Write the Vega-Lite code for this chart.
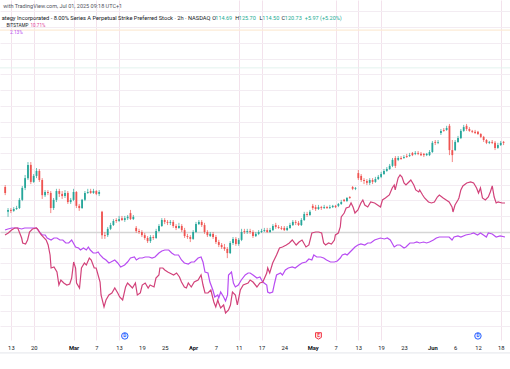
{
  "$schema": "https://vega.github.io/schema/vega-lite/v6.json",
  "width": 510,
  "height": 340,
  "autosize": "none",
  "padding": {"left": 0, "top": 0, "right": 0, "bottom": 29},
  "background": "#ffffff",
  "config": {
    "view": {"stroke": null},
    "text": {"font": "Roboto"}
  },
  "resolve": {"axis": {"x": "independent", "y": "independent"}},
  "datasets": {
    "candles": [
      {"t":-1,"o":14.3,"h":14.9,"l":11.7,"c":12.4},
      {"t":-0.5,"o":6.4,"h":7.6,"l":4.8,"c":7.0},
      {"t":0,"o":7.0,"h":7.6,"l":6.0,"c":6.7},
      {"t":0.5,"o":6.7,"h":7.9,"l":6.4,"c":7.3},
      {"t":1,"o":7.3,"h":8.3,"l":7.0,"c":7.6},
      {"t":1.5,"o":7.6,"h":10.8,"l":7.3,"c":10.2},
      {"t":2,"o":10.2,"h":14.6,"l":9.8,"c":14.0},
      {"t":2.5,"o":14.0,"h":18.1,"l":13.3,"c":17.1},
      {"t":3,"o":17.1,"h":22.2,"l":16.5,"c":21.3},
      {"t":3.5,"o":21.3,"h":22.2,"l":15.2,"c":15.9},
      {"t":4,"o":15.9,"h":18.4,"l":15.6,"c":17.8},
      {"t":4.5,"o":17.8,"h":20.3,"l":17.1,"c":19.4},
      {"t":5,"o":19.4,"h":20.0,"l":15.9,"c":16.5},
      {"t":5.5,"o":16.5,"h":17.1,"l":10.5,"c":11.7},
      {"t":6,"o":11.7,"h":13.3,"l":11.1,"c":12.7},
      {"t":6.5,"o":12.7,"h":13.3,"l":11.7,"c":12.4},
      {"t":7,"o":12.4,"h":13.0,"l":6.0,"c":7.6},
      {"t":7.5,"o":7.6,"h":10.8,"l":7.0,"c":10.2},
      {"t":8,"o":10.2,"h":13.7,"l":9.5,"c":13.0},
      {"t":8.5,"o":13.0,"h":13.7,"l":11.1,"c":12.1},
      {"t":9,"o":12.1,"h":13.0,"l":10.5,"c":11.4},
      {"t":9.5,"o":11.4,"h":13.3,"l":10.8,"c":12.4},
      {"t":10,"o":12.4,"h":13.0,"l":8.9,"c":9.5},
      {"t":10.5,"o":9.5,"h":10.8,"l":8.9,"c":10.2},
      {"t":11,"o":10.2,"h":13.7,"l":9.8,"c":12.7},
      {"t":11.5,"o":12.7,"h":13.0,"l":7.6,"c":8.3},
      {"t":12,"o":8.3,"h":8.9,"l":6.7,"c":7.6},
      {"t":12.5,"o":7.6,"h":10.5,"l":7.3,"c":10.2},
      {"t":13,"o":10.2,"h":13.0,"l":9.8,"c":12.4},
      {"t":13.5,"o":12.4,"h":13.7,"l":12.1,"c":12.7},
      {"t":14,"o":13.0,"h":13.7,"l":12.1,"c":12.4},
      {"t":14.5,"o":12.4,"h":13.7,"l":12.1,"c":13.0},
      {"t":15,"o":13.0,"h":13.3,"l":11.7,"c":12.1},
      {"t":15.5,"o":12.1,"h":13.3,"l":11.4,"c":12.7},
      {"t":16,"o":6.4,"h":6.7,"l":-2.2,"c":-1.0},
      {"t":16.5,"o":-1.0,"h":0,"l":-2.2,"c":-1.3},
      {"t":17,"o":-1.0,"h":1.6,"l":-1.6,"c":1.0},
      {"t":17.5,"o":1.0,"h":2.9,"l":0.6,"c":2.2},
      {"t":18,"o":2.2,"h":4.1,"l":1.9,"c":3.5},
      {"t":18.5,"o":3.8,"h":4.4,"l":2.9,"c":3.5},
      {"t":19,"o":3.5,"h":5.1,"l":3.2,"c":4.1},
      {"t":19.5,"o":4.4,"h":5.1,"l":3.5,"c":3.8},
      {"t":20,"o":3.8,"h":5.1,"l":3.2,"c":4.4},
      {"t":20.5,"o":4.4,"h":5.4,"l":3.8,"c":4.8},
      {"t":21,"o":6.0,"h":7.0,"l":3.8,"c":4.1},
      {"t":21.5,"o":4.1,"h":5.4,"l":3.8,"c":4.8},
      {"t":22,"o":1.3,"h":1.9,"l":-0.3,"c":0.3},
      {"t":22.5,"o":0.3,"h":1.0,"l":-0.6,"c":0},
      {"t":23,"o":0,"h":0.6,"l":-1.6,"c":-1.0},
      {"t":23.5,"o":-1.0,"h":-0.3,"l":-2.5,"c":-1.9},
      {"t":24,"o":-1.9,"h":-1.3,"l":-3.5,"c":-2.9},
      {"t":24.5,"o":-2.9,"h":-1.0,"l":-3.5,"c":-1.6},
      {"t":25,"o":-1.6,"h":-1.0,"l":-2.5,"c":-1.9},
      {"t":25.5,"o":-1.9,"h":1.0,"l":-2.2,"c":0.3},
      {"t":26,"o":0.3,"h":2.5,"l":0,"c":1.9},
      {"t":26.5,"o":1.9,"h":4.4,"l":1.6,"c":3.8},
      {"t":27,"o":3.8,"h":4.4,"l":2.5,"c":3.2},
      {"t":27.5,"o":3.2,"h":3.8,"l":2.2,"c":2.9},
      {"t":28,"o":2.9,"h":3.8,"l":2.2,"c":3.2},
      {"t":28.5,"o":3.2,"h":3.8,"l":1.3,"c":1.9},
      {"t":29,"o":1.9,"h":2.5,"l":0.6,"c":1.3},
      {"t":29.5,"o":1.3,"h":2.9,"l":1.0,"c":1.9},
      {"t":30,"o":1.9,"h":2.5,"l":0,"c":0.6},
      {"t":30.5,"o":0.6,"h":1.3,"l":-1.9,"c":-1.3},
      {"t":31,"o":-1.3,"h":-0.6,"l":-2.2,"c":-1.6},
      {"t":31.5,"o":-1.6,"h":-1.0,"l":-3.2,"c":-2.2},
      {"t":32,"o":-2.2,"h":0.6,"l":-2.5,"c":0},
      {"t":32.5,"o":0,"h":3.2,"l":-0.3,"c":2.5},
      {"t":33,"o":2.5,"h":3.8,"l":2.2,"c":3.2},
      {"t":33.5,"o":3.2,"h":3.8,"l":1.6,"c":2.2},
      {"t":34,"o":2.2,"h":2.9,"l":-0.6,"c":0},
      {"t":34.5,"o":0,"h":0.6,"l":-1.6,"c":-1.0},
      {"t":35,"o":-1.3,"h":0,"l":-1.6,"c":-0.6},
      {"t":35.5,"o":-0.6,"h":0,"l":-2.2,"c":-1.6},
      {"t":36,"o":-1.6,"h":-1.0,"l":-3.8,"c":-3.2},
      {"t":36.5,"o":-3.2,"h":-2.5,"l":-4.8,"c":-4.1},
      {"t":37,"o":-4.1,"h":-3.5,"l":-5.4,"c":-4.8},
      {"t":37.5,"o":-4.8,"h":-3.8,"l":-6.0,"c":-5.4},
      {"t":38,"o":-5.4,"h":-4.8,"l":-8.3,"c":-6.7},
      {"t":38.5,"o":-6.7,"h":-2.9,"l":-7.0,"c":-3.5},
      {"t":39,"o":-3.5,"h":-1.6,"l":-4.1,"c":-2.2},
      {"t":39.5,"o":-2.2,"h":-1.6,"l":-4.4,"c":-3.8},
      {"t":40,"o":-3.8,"h":-1.9,"l":-4.4,"c":-2.5},
      {"t":40.5,"o":-2.5,"h":1.0,"l":-2.9,"c":0},
      {"t":41,"o":0.3,"h":1.0,"l":-0.6,"c":0},
      {"t":41.5,"o":0,"h":1.0,"l":-0.6,"c":0.3},
      {"t":42,"o":0.3,"h":1.0,"l":-0.6,"c":0},
      {"t":42.5,"o":0,"h":0.6,"l":-1.9,"c":-1.3},
      {"t":43,"o":-1.3,"h":0,"l":-1.6,"c":-0.6},
      {"t":43.5,"o":-0.6,"h":0.6,"l":-1.0,"c":0},
      {"t":44,"o":0,"h":1.0,"l":-0.3,"c":0.3},
      {"t":44.5,"o":0.3,"h":1.3,"l":0,"c":0.6},
      {"t":45,"o":0.6,"h":1.3,"l":-0.3,"c":0},
      {"t":45.5,"o":0,"h":1.3,"l":-0.3,"c":0.6},
      {"t":46,"o":0.6,"h":2.5,"l":0.3,"c":1.9},
      {"t":46.5,"o":2.2,"h":2.9,"l":1.0,"c":1.6},
      {"t":47,"o":1.6,"h":2.2,"l":1.0,"c":1.3},
      {"t":47.5,"o":1.3,"h":1.9,"l":0.6,"c":1.0},
      {"t":48,"o":1.3,"h":1.9,"l":0.3,"c":0.6},
      {"t":48.5,"o":0.6,"h":1.9,"l":0.3,"c":1.3},
      {"t":49,"o":1.3,"h":2.9,"l":1.0,"c":2.2},
      {"t":49.5,"o":2.2,"h":3.8,"l":1.9,"c":3.2},
      {"t":50,"o":3.2,"h":3.8,"l":2.2,"c":2.9},
      {"t":50.5,"o":2.9,"h":3.5,"l":1.9,"c":2.2},
      {"t":51,"o":2.2,"h":4.4,"l":1.9,"c":3.8},
      {"t":51.5,"o":3.8,"h":6.4,"l":3.5,"c":5.7},
      {"t":52,"o":5.7,"h":6.4,"l":4.8,"c":5.4},
      {"t":52.5,"o":5.4,"h":7.0,"l":5.1,"c":6.4},
      {"t":53,"o":8.3,"h":8.9,"l":7.0,"c":7.6},
      {"t":53.5,"o":7.9,"h":8.6,"l":6.7,"c":7.3},
      {"t":54,"o":7.3,"h":8.6,"l":7.0,"c":7.9},
      {"t":54.5,"o":7.9,"h":8.3,"l":7.0,"c":7.6},
      {"t":55,"o":7.6,"h":8.6,"l":7.3,"c":7.9},
      {"t":55.5,"o":7.9,"h":8.3,"l":7.3,"c":7.6},
      {"t":56,"o":7.6,"h":8.6,"l":7.3,"c":7.9},
      {"t":56.5,"o":7.9,"h":8.6,"l":7.6,"c":8.3},
      {"t":57,"o":8.3,"h":8.6,"l":7.6,"c":7.9},
      {"t":57.5,"o":8.3,"h":9.2,"l":7.9,"c":8.9},
      {"t":58,"o":8.9,"h":10.2,"l":8.6,"c":9.5},
      {"t":58.5,"o":10.2,"h":10.5,"l":9.5,"c":9.8},
      {"t":59,"o":9.8,"h":11.1,"l":9.5,"c":10.8},
      {"t":59.5,"o":11.1,"h":11.4,"l":10.5,"c":10.8},
      {"t":60,"o":14.3,"h":14.6,"l":13.3,"c":13.7},
      {"t":60.5,"o":13.7,"h":14.3,"l":13.3,"c":14.0},
      {"t":61,"o":18.7,"h":19.7,"l":16.5,"c":17.1},
      {"t":61.5,"o":17.8,"h":18.4,"l":15.9,"c":16.5},
      {"t":62,"o":16.5,"h":17.1,"l":15.2,"c":16.2},
      {"t":62.5,"o":16.2,"h":16.8,"l":14.9,"c":15.6},
      {"t":63,"o":15.6,"h":17.1,"l":14.9,"c":16.5},
      {"t":63.5,"o":16.5,"h":17.1,"l":15.2,"c":15.9},
      {"t":64,"o":15.9,"h":17.5,"l":15.6,"c":16.8},
      {"t":64.5,"o":16.8,"h":18.1,"l":16.5,"c":17.5},
      {"t":65,"o":17.5,"h":19.1,"l":17.1,"c":18.4},
      {"t":65.5,"o":18.4,"h":20.0,"l":18.1,"c":19.4},
      {"t":66,"o":19.4,"h":20.6,"l":19.1,"c":20.0},
      {"t":66.5,"o":20.0,"h":21.6,"l":19.7,"c":21.0},
      {"t":67,"o":21.0,"h":23.5,"l":20.6,"c":22.9},
      {"t":67.5,"o":23.5,"h":24.1,"l":20.3,"c":21.0},
      {"t":68,"o":22.9,"h":24.1,"l":22.5,"c":23.5},
      {"t":68.5,"o":23.5,"h":24.1,"l":22.9,"c":23.2},
      {"t":69,"o":23.5,"h":24.4,"l":23.2,"c":23.8},
      {"t":69.5,"o":24.1,"h":24.8,"l":23.5,"c":23.8},
      {"t":70,"o":24.1,"h":25.1,"l":23.8,"c":24.4},
      {"t":70.5,"o":25.1,"h":25.4,"l":24.1,"c":24.4},
      {"t":71,"o":24.8,"h":25.7,"l":24.4,"c":25.1},
      {"t":71.5,"o":25.1,"h":25.7,"l":24.4,"c":24.8},
      {"t":72,"o":24.8,"h":25.4,"l":24.1,"c":24.4},
      {"t":72.5,"o":24.8,"h":25.1,"l":23.8,"c":24.4},
      {"t":73,"o":24.4,"h":25.1,"l":24.1,"c":24.8},
      {"t":73.5,"o":24.4,"h":26.0,"l":24.1,"c":25.4},
      {"t":74,"o":25.4,"h":28.9,"l":25.1,"c":28.3},
      {"t":74.5,"o":28.6,"h":29.2,"l":27.6,"c":28.3},
      {"t":75,"o":28.3,"h":29.2,"l":27.9,"c":28.6},
      {"t":75.5,"o":31.4,"h":32.7,"l":30.8,"c":32.1},
      {"t":76,"o":32.4,"h":33.0,"l":31.8,"c":32.1},
      {"t":76.5,"o":32.4,"h":33.7,"l":32.1,"c":33.0},
      {"t":77,"o":33.7,"h":34.3,"l":24.4,"c":26.0},
      {"t":77.5,"o":26.0,"h":29.2,"l":22.2,"c":24.4},
      {"t":78,"o":26.0,"h":29.2,"l":25.7,"c":28.6},
      {"t":78.5,"o":28.6,"h":30.5,"l":28.3,"c":29.8},
      {"t":79,"o":29.8,"h":32.7,"l":29.5,"c":32.1},
      {"t":79.5,"o":32.1,"h":34.0,"l":31.8,"c":33.3},
      {"t":80,"o":33.7,"h":34.3,"l":32.1,"c":32.7},
      {"t":80.5,"o":32.7,"h":33.3,"l":31.8,"c":32.1},
      {"t":81,"o":32.1,"h":32.4,"l":31.4,"c":31.8},
      {"t":81.5,"o":31.8,"h":32.4,"l":31.1,"c":31.4},
      {"t":82,"o":31.8,"h":32.1,"l":30.8,"c":31.1},
      {"t":82.5,"o":31.1,"h":31.4,"l":29.8,"c":30.2},
      {"t":83,"o":30.2,"h":30.5,"l":28.6,"c":29.2},
      {"t":83.5,"o":29.2,"h":29.5,"l":27.9,"c":28.3},
      {"t":84,"o":28.3,"h":28.9,"l":27.9,"c":28.6},
      {"t":84.5,"o":28.6,"h":29.2,"l":27.9,"c":28.3},
      {"t":85,"o":28.3,"h":28.9,"l":26.0,"c":26.7},
      {"t":85.5,"o":26.7,"h":28.3,"l":26.4,"c":27.6},
      {"t":86,"o":27.6,"h":28.9,"l":27.3,"c":28.3},
      {"t":86.5,"o":28.6,"h":28.9,"l":27.6,"c":28.3}
    ],
    "bitstamp": [
      {"t":-1.03,"v":-0.95},{"t":-0.46,"v":-0.32},{"t":0.12,"v":0.64},{"t":0.69,"v":1.27},{"t":1.2,"v":1.27},{"t":1.55,"v":-0.32},{"t":1.89,"v":-1.91},{"t":2.07,"v":-3.49},{"t":2.58,"v":-3.81},{"t":2.93,"v":-2.54},{"t":3.27,"v":0},{"t":3.79,"v":0.95},{"t":4.48,"v":1.27},{"t":4.65,"v":0.95},{"t":5.34,"v":-0.95},{"t":6.2,"v":-2.54},{"t":6.54,"v":-4.13},{"t":6.88,"v":-7.3},{"t":7.06,"v":-11.43},{"t":7.57,"v":-11.11},{"t":8.09,"v":-12.7},{"t":8.43,"v":-16.83},{"t":8.78,"v":-15.24},{"t":9.29,"v":-16.19},{"t":9.81,"v":-16.83},{"t":10.33,"v":-16.51},{"t":10.67,"v":-14.61},{"t":11.02,"v":-9.53},{"t":11.36,"v":-11.43},{"t":11.53,"v":-16.19},{"t":12.05,"v":-17.78},{"t":12.39,"v":-11.43},{"t":12.91,"v":-9.84},{"t":13.25,"v":-10.48},{"t":13.77,"v":-8.26},{"t":14.11,"v":-8.89},{"t":14.63,"v":-11.43},{"t":14.97,"v":-11.43},{"t":15.66,"v":-15.88},{"t":15.83,"v":-20.0},{"t":16.35,"v":-23.81},{"t":16.7,"v":-21.59},{"t":17.21,"v":-20.0},{"t":17.73,"v":-19.37},{"t":18.24,"v":-17.78},{"t":18.76,"v":-19.37},{"t":19.1,"v":-20.64},{"t":19.62,"v":-21.59},{"t":20.14,"v":-17.46},{"t":20.48,"v":-16.19},{"t":20.83,"v":-16.83},{"t":21.34,"v":-17.78},{"t":21.86,"v":-16.19},{"t":22.2,"v":-20.0},{"t":22.72,"v":-19.37},{"t":23.06,"v":-16.83},{"t":23.58,"v":-16.19},{"t":24.1,"v":-17.78},{"t":24.44,"v":-16.83},{"t":25.13,"v":-17.46},{"t":25.47,"v":-14.61},{"t":25.99,"v":-13.65},{"t":26.16,"v":-11.43},{"t":26.68,"v":-11.43},{"t":27.02,"v":-12.07},{"t":27.54,"v":-12.7},{"t":27.88,"v":-13.02},{"t":28.57,"v":-13.65},{"t":29.09,"v":-13.02},{"t":29.6,"v":-14.29},{"t":29.95,"v":-15.88},{"t":30.46,"v":-17.46},{"t":30.81,"v":-17.78},{"t":31.15,"v":-16.19},{"t":31.67,"v":-17.46},{"t":32.19,"v":-15.88},{"t":32.87,"v":-15.24},{"t":33.39,"v":-13.65},{"t":33.73,"v":-16.83},{"t":34.08,"v":-19.37},{"t":34.6,"v":-19.37},{"t":35.11,"v":-18.42},{"t":35.63,"v":-22.23},{"t":35.97,"v":-23.81},{"t":36.32,"v":-21.59},{"t":36.49,"v":-22.54},{"t":36.83,"v":-24.13},{"t":37.35,"v":-23.18},{"t":37.69,"v":-25.72},{"t":38.21,"v":-24.77},{"t":38.55,"v":-23.18},{"t":38.9,"v":-19.05},{"t":39.41,"v":-20.0},{"t":39.76,"v":-23.18},{"t":40.28,"v":-18.42},{"t":40.79,"v":-16.83},{"t":41.65,"v":-16.19},
      {"t":42.0,"v":-15.24},{"t":42.51,"v":-15.88},{"t":43.2,"v":-17.46},{"t":43.72,"v":-16.19},{"t":44.23,"v":-15.88},{"t":44.92,"v":-13.02},{"t":45.09,"v":-11.43},{"t":45.44,"v":-13.02},{"t":45.96,"v":-9.84},{"t":46.64,"v":-7.3},{"t":47.16,"v":-5.08},{"t":47.68,"v":-4.76},{"t":48.36,"v":-4.13},{"t":48.88,"v":-3.49},{"t":49.4,"v":-2.54},{"t":50.09,"v":-4.13},{"t":50.6,"v":-3.18},{"t":51.12,"v":-2.54},{"t":51.81,"v":-4.76},{"t":52.32,"v":-4.13},{"t":52.84,"v":-0.32},{"t":53.53,"v":0},{"t":54.04,"v":0},{"t":54.56,"v":-0.32},{"t":54.91,"v":-3.49},{"t":55.25,"v":-4.13},{"t":55.77,"v":-3.49},{"t":56.28,"v":-3.81},{"t":56.8,"v":-2.54},{"t":56.97,"v":-0.95},{"t":57.49,"v":-0.32},{"t":57.83,"v":1.59},{"t":58.0,"v":4.76},{"t":58.52,"v":6.03},{"t":58.86,"v":7.62},{"t":59.38,"v":7.94},{"t":59.72,"v":9.21},{"t":60.07,"v":7.94},{"t":60.41,"v":6.03},{"t":60.93,"v":6.99},{"t":61.45,"v":9.21},{"t":61.79,"v":10.16},{"t":62.13,"v":8.57},{"t":62.65,"v":7.94},{"t":63.17,"v":9.53},{"t":63.86,"v":9.21},{"t":64.37,"v":8.57},{"t":64.89,"v":7.94},{"t":65.23,"v":10.16},{"t":65.75,"v":10.8},{"t":66.44,"v":11.75},{"t":66.95,"v":13.97},{"t":67.3,"v":14.92},{"t":67.47,"v":13.34},{"t":67.99,"v":17.15},{"t":68.33,"v":18.1},{"t":68.67,"v":17.46},{"t":69.02,"v":15.56},{"t":69.36,"v":14.92},{"t":69.88,"v":15.88},{"t":70.22,"v":16.51},{"t":70.74,"v":14.92},{"t":71.08,"v":13.34},{"t":71.6,"v":12.7},{"t":71.77,"v":13.34},{"t":72.29,"v":11.75},{"t":72.63,"v":10.8},{"t":73.32,"v":9.53},{"t":73.84,"v":9.21},{"t":74.35,"v":9.53},{"t":74.87,"v":11.11},{"t":75.22,"v":11.75},{"t":75.9,"v":10.8},{"t":76.42,"v":10.16},{"t":76.94,"v":9.53},{"t":77.45,"v":7.94},{"t":77.62,"v":6.35},{"t":77.97,"v":8.57},{"t":78.49,"v":10.16},{"t":78.66,"v":10.8},{"t":79.0,"v":13.34},{"t":79.35,"v":14.61},{"t":80.03,"v":15.56},{"t":80.72,"v":15.88},{"t":81.24,"v":15.56},{"t":81.76,"v":13.97},{"t":82.1,"v":12.38},{"t":82.44,"v":13.97},{"t":82.79,"v":10.8},{"t":83.3,"v":10.16},{"t":83.82,"v":11.11},{"t":84.17,"v":12.7},{"t":84.51,"v":14.61},{"t":84.85,"v":11.11},{"t":85.2,"v":9.21},{"t":85.54,"v":9.53},{"t":86.23,"v":9.21},{"t":86.75,"v":9.21}
    ],
    "mstr": [
      {"t":-1.03,"v":0.64},{"t":-0.52,"v":0.95},{"t":0.17,"v":1.27},{"t":0.69,"v":1.27},{"t":1.2,"v":1.27},{"t":1.89,"v":0.95},{"t":2.41,"v":1.27},{"t":2.93,"v":1.27},{"t":3.61,"v":1.27},{"t":4.13,"v":1.27},{"t":4.48,"v":1.27},{"t":4.65,"v":0.95},{"t":5.16,"v":-0.32},{"t":5.51,"v":-0.95},{"t":6.02,"v":-0.95},{"t":6.37,"v":-1.91},{"t":7.06,"v":-2.54},{"t":7.57,"v":-1.91},{"t":8.09,"v":-1.91},{"t":8.61,"v":-2.54},{"t":9.12,"v":-2.54},{"t":9.64,"v":-3.49},{"t":10.15,"v":-3.49},{"t":10.67,"v":-2.54},{"t":11.36,"v":-4.76},{"t":11.88,"v":-5.08},{"t":12.22,"v":-5.72},{"t":12.74,"v":-5.08},{"t":13.25,"v":-5.72},{"t":13.6,"v":-4.76},{"t":13.94,"v":-5.72},{"t":14.46,"v":-6.67},{"t":14.97,"v":-6.67},{"t":15.32,"v":-6.35},{"t":15.66,"v":-7.3},{"t":16.18,"v":-8.26},{"t":16.7,"v":-8.89},{"t":17.21,"v":-9.84},{"t":17.56,"v":-9.53},{"t":18.24,"v":-8.89},{"t":18.76,"v":-9.84},{"t":19.28,"v":-11.11},{"t":19.97,"v":-10.48},{"t":20.48,"v":-9.53},{"t":21.0,"v":-8.26},{"t":21.69,"v":-7.94},{"t":22.03,"v":-8.89},{"t":22.55,"v":-8.26},{"t":23.06,"v":-8.26},{"t":23.58,"v":-7.94},{"t":24.27,"v":-7.94},{"t":24.78,"v":-8.26},{"t":25.3,"v":-7.94},{"t":25.99,"v":-6.67},{"t":26.51,"v":-6.03},{"t":27.02,"v":-5.72},{"t":27.71,"v":-5.72},{"t":28.23,"v":-6.67},{"t":28.74,"v":-7.3},{"t":29.43,"v":-7.3},{"t":29.95,"v":-8.89},{"t":30.46,"v":-9.84},{"t":31.15,"v":-10.16},{"t":31.67,"v":-9.53},{"t":32.19,"v":-9.53},{"t":32.87,"v":-8.26},{"t":33.39,"v":-7.94},{"t":33.73,"v":-9.53},{"t":34.08,"v":-12.7},{"t":34.6,"v":-13.02},{"t":34.94,"v":-15.88},{"t":35.46,"v":-18.42},{"t":35.8,"v":-20.64},{"t":36.32,"v":-20.0},{"t":36.49,"v":-20.96},{"t":36.83,"v":-19.05},{"t":37.35,"v":-20.64},{"t":37.69,"v":-21.91},{"t":38.04,"v":-20.0},{"t":38.21,"v":-13.65},{"t":38.73,"v":-12.7},{"t":39.07,"v":-16.19},{"t":39.41,"v":-17.46},{"t":39.93,"v":-16.83},{"t":40.45,"v":-15.24},{"t":41.14,"v":-13.65},{"t":41.65,"v":-13.02},
      {"t":42.0,"v":-13.02},{"t":42.51,"v":-13.65},{"t":43.2,"v":-14.61},{"t":43.72,"v":-14.29},{"t":44.23,"v":-15.88},{"t":44.92,"v":-16.83},{"t":45.09,"v":-19.05},{"t":45.44,"v":-19.37},{"t":45.96,"v":-19.05},{"t":46.3,"v":-16.19},{"t":46.64,"v":-13.65},{"t":47.33,"v":-13.02},{"t":47.68,"v":-13.65},{"t":48.19,"v":-12.07},{"t":48.71,"v":-11.43},{"t":49.4,"v":-11.11},{"t":49.91,"v":-11.43},{"t":50.6,"v":-10.48},{"t":51.12,"v":-9.84},{"t":51.81,"v":-9.53},{"t":52.32,"v":-8.57},{"t":52.84,"v":-8.89},{"t":53.18,"v":-7.3},{"t":53.7,"v":-7.94},{"t":54.39,"v":-7.94},{"t":54.91,"v":-8.26},{"t":55.42,"v":-8.89},{"t":56.11,"v":-9.53},{"t":56.8,"v":-9.53},{"t":57.31,"v":-9.21},{"t":57.83,"v":-8.26},{"t":58.18,"v":-7.3},{"t":58.69,"v":-6.99},{"t":59.04,"v":-7.3},{"t":59.55,"v":-6.35},{"t":59.9,"v":-5.72},{"t":60.41,"v":-4.76},{"t":60.93,"v":-4.13},{"t":61.45,"v":-3.81},{"t":62.13,"v":-4.13},{"t":62.65,"v":-3.49},{"t":63.17,"v":-3.49},{"t":63.86,"v":-2.54},{"t":64.37,"v":-2.22},{"t":64.89,"v":-1.91},{"t":65.58,"v":-2.22},{"t":66.09,"v":-1.91},{"t":66.61,"v":-2.54},{"t":67.3,"v":-4.76},{"t":67.81,"v":-4.13},{"t":68.33,"v":-4.13},{"t":69.02,"v":-5.08},{"t":69.36,"v":-4.76},{"t":70.05,"v":-3.49},{"t":70.74,"v":-3.49},{"t":71.26,"v":-3.18},{"t":71.77,"v":-3.49},{"t":72.46,"v":-3.18},{"t":72.98,"v":-3.49},{"t":73.49,"v":-3.18},{"t":74.18,"v":-2.54},{"t":74.7,"v":-1.91},{"t":75.22,"v":-1.59},{"t":75.9,"v":-1.59},{"t":76.42,"v":-1.59},{"t":76.94,"v":-1.59},{"t":77.45,"v":-2.54},{"t":77.8,"v":-1.59},{"t":78.49,"v":-1.27},{"t":79.0,"v":-1.59},{"t":79.86,"v":-0.95},{"t":80.72,"v":-0.64},{"t":81.24,"v":-0.32},{"t":81.93,"v":-0.95},{"t":82.44,"v":-0.32},{"t":82.96,"v":-0.95},{"t":83.48,"v":-1.59},{"t":83.82,"v":-0.32},{"t":84.51,"v":-0.64},{"t":85.2,"v":-1.59},{"t":85.89,"v":-1.27},{"t":86.75,"v":-1.59}
    ],
    "events": [
      {"t":20,"kind":"D"},
      {"t":54,"kind":"E"},
      {"t":82,"kind":"D"}
    ]
  },
  "layer": [
    {
      "data": {"name": "mstr"},
      "mark": {"type": "line", "color": "#b84cf2", "strokeWidth": 1.2},
      "encoding": {
        "x": {"field": "t", "type": "quantitative", "title": null,
          "scale": {"domain": [-1.033, 86.75], "nice": false, "zero": false},
          "axis": {
            "values": [0,4,11,15,19,23,27,32,36,40,44,48,53,57,61,65,69,74,78,82,86],
            "labelExpr": "['13','20','Mar','7','13','19','25','Apr','7','11','17','24','May','7','13','19','23','Jun','6','12','18'][indexof([0,4,11,15,19,23,27,32,36,40,44,48,53,57,61,65,69,74,78,82,86], datum.value)]",
            "labelOverlap": false, "labelFlush": false, "labelSeparation": 0, "labelBound": false,
            "domain": false, "ticks": false, "labelPadding": 4, "labelFont": "Roboto", "labelFontSize": 5.8, "labelColor": "#131722",
            "labelFontWeight": {"condition": {"test": "datum.value == 11 || datum.value == 32 || datum.value == 53 || datum.value == 74", "value": "bold"}, "value": "normal"},
            "grid": true, "gridColor": "#f3e2ec", "gridWidth": 1,
            "gridOpacity": {"condition": {"test": "indexof([0,4,11,15,19,40,44,57,61,65,86], datum.value) >= 0", "value": 1}, "value": 0}
          }
        },
        "y": {"field": "v", "type": "quantitative", "title": null,
          "scale": {"domain": [-34.29, 73.65], "nice": false, "zero": false},
          "axis": {
            "values": [-30,-25,-20,-15,-10,-5,0,5,10,15,20,25,30,35,40,45,50,55,60,65,70],
            "labels": false, "ticks": false, "domain": false, "grid": true,
            "gridColor": {"condition": {"test": "datum.value === 0", "value": "#d6d6d6"}, "value": "#f3ecf2"},
            "gridWidth": {"condition": {"test": "datum.value === 0", "value": 1.4}, "value": 1}
          }
        }
      }
    },
    {
      "data": {"name": "bitstamp"},
      "mark": {"type": "line", "color": "#d2427a", "strokeWidth": 1.2},
      "encoding": {
        "x": {"field": "t", "type": "quantitative", "axis": null, "scale": {"domain": [-1.033, 86.75], "nice": false, "zero": false}},
        "y": {"field": "v", "type": "quantitative", "axis": null, "scale": {"domain": [-34.29, 73.65], "nice": false, "zero": false}}
      }
    },
    {
      "data": {"name": "candles"},
      "mark": {"type": "rule", "strokeWidth": 0.7},
      "encoding": {
        "x": {"field": "t", "type": "quantitative", "axis": null, "scale": {"domain": [-1.033, 86.75], "nice": false, "zero": false}},
        "y": {"field": "l", "type": "quantitative", "axis": null, "scale": {"domain": [-34.29, 73.65], "nice": false, "zero": false}},
        "y2": {"field": "h"},
        "color": {"condition": {"test": "datum.c >= datum.o", "value": "#26a69a"}, "value": "#ef5350"}
      }
    },
    {
      "data": {"name": "candles"},
      "mark": {"type": "bar", "width": 1.8},
      "encoding": {
        "x": {"field": "t", "type": "quantitative", "axis": null, "scale": {"domain": [-1.033, 86.75], "nice": false, "zero": false}},
        "y": {"field": "o", "type": "quantitative", "axis": null, "scale": {"domain": [-34.29, 73.65], "nice": false, "zero": false}},
        "y2": {"field": "c"},
        "color": {"condition": {"test": "datum.c >= datum.o", "value": "#26a69a"}, "value": "#ef5350"}
      }
    },
    {
      "data": {"name": "events"},
      "mark": {"type": "point", "filled": true, "size": 42, "strokeWidth": 1, "opacity": 1},
      "encoding": {
        "x": {"field": "t", "type": "quantitative", "axis": null, "scale": {"domain": [-1.033, 86.75], "nice": false, "zero": false}},
        "y": {"datum": -33, "axis": null, "scale": {"domain": [-34.29, 73.65], "nice": false, "zero": false}},
        "shape": {"condition": {"test": "datum.kind == 'E'", "value": "M -0.9 -1 L 0.9 -1 L 0.9 0.45 L 0 1 L -0.9 0.45 Z"}, "value": "circle"},
        "fill": {"condition": {"test": "datum.kind == 'E'", "value": "#fde8ea"}, "value": "#eef2ff"},
        "stroke": {"condition": {"test": "datum.kind == 'E'", "value": "#f23645"}, "value": "#2962ff"}
      }
    },
    {
      "data": {"name": "events"},
      "mark": {"type": "text", "fontSize": 4.6, "fontWeight": "bold", "baseline": "middle", "align": "center", "font": "Roboto"},
      "encoding": {
        "x": {"field": "t", "type": "quantitative", "axis": null, "scale": {"domain": [-1.033, 86.75], "nice": false, "zero": false}},
        "y": {"datum": -33, "axis": null, "scale": {"domain": [-34.29, 73.65], "nice": false, "zero": false}},
        "text": {"field": "kind"},
        "color": {"condition": {"test": "datum.kind == 'E'", "value": "#f23645"}, "value": "#2962ff"}
      }
    },
    {
      "data": {"values": [{}]},
      "layer": [
        {"mark": {"type": "rule", "color": "#e3e5ea", "strokeWidth": 1}, "encoding": {"y": {"datum": -38.4, "axis": null, "scale": {"domain": [-34.29, 73.65], "nice": false, "zero": false}}}},
        {"mark": {"type": "rule", "color": "#fcebd6", "strokeWidth": 1.4}, "encoding": {"y": {"datum": 64.1, "axis": null, "scale": {"domain": [-34.29, 73.65], "nice": false, "zero": false}}}},
        {"mark": {"type": "rule", "color": "#e3f2ee", "strokeWidth": 1}, "encoding": {"y": {"datum": 52.1, "axis": null, "scale": {"domain": [-34.29, 73.65], "nice": false, "zero": false}}}},
        {"mark": {"type": "text", "text": "with TradingView.com, Jul 01, 2025 09:18 UTC+1", "align": "right", "baseline": "middle", "fontSize": 5.5, "color": "#50535e"},
         "encoding": {"x": {"datum": 19.54, "axis": null, "scale": {"domain": [-1.033, 86.75], "nice": false, "zero": false}}, "y": {"datum": 71.8, "axis": null, "scale": {"domain": [-34.29, 73.65], "nice": false, "zero": false}}}},
        {"mark": {"type": "text", "text": "ategy Incorporated - 8.00% Series A Perpetual Strike Preferred Stock · 2h · NASDAQ", "align": "right", "baseline": "middle", "fontSize": 5.7, "color": "#131722"},
         "encoding": {"x": {"datum": 35.03, "axis": null, "scale": {"domain": [-1.033, 86.75], "nice": false, "zero": false}}, "y": {"datum": 67.9, "axis": null, "scale": {"domain": [-34.29, 73.65], "nice": false, "zero": false}}}},
        {"mark": {"type": "text", "text": "O", "align": "left", "baseline": "middle", "fontSize": 5.5, "color": "#131722"},
         "encoding": {"x": {"datum": 35.37, "axis": null, "scale": {"domain": [-1.033, 86.75], "nice": false, "zero": false}}, "y": {"datum": 67.9, "axis": null, "scale": {"domain": [-34.29, 73.65], "nice": false, "zero": false}}}},
        {"mark": {"type": "text", "text": "114.69", "align": "left", "baseline": "middle", "fontSize": 5.5, "color": "#22ab94"},
         "encoding": {"x": {"datum": 35.89, "axis": null, "scale": {"domain": [-1.033, 86.75], "nice": false, "zero": false}}, "y": {"datum": 67.9, "axis": null, "scale": {"domain": [-34.29, 73.65], "nice": false, "zero": false}}}},
        {"mark": {"type": "text", "text": "H", "align": "left", "baseline": "middle", "fontSize": 5.5, "color": "#131722"},
         "encoding": {"x": {"datum": 39.41, "axis": null, "scale": {"domain": [-1.033, 86.75], "nice": false, "zero": false}}, "y": {"datum": 67.9, "axis": null, "scale": {"domain": [-34.29, 73.65], "nice": false, "zero": false}}}},
        {"mark": {"type": "text", "text": "125.70", "align": "left", "baseline": "middle", "fontSize": 5.5, "color": "#22ab94"},
         "encoding": {"x": {"datum": 40.02, "axis": null, "scale": {"domain": [-1.033, 86.75], "nice": false, "zero": false}}, "y": {"datum": 67.9, "axis": null, "scale": {"domain": [-34.29, 73.65], "nice": false, "zero": false}}}},
        {"mark": {"type": "text", "text": "L", "align": "left", "baseline": "middle", "fontSize": 5.5, "color": "#131722"},
         "encoding": {"x": {"datum": 43.64, "axis": null, "scale": {"domain": [-1.033, 86.75], "nice": false, "zero": false}}, "y": {"datum": 67.9, "axis": null, "scale": {"domain": [-34.29, 73.65], "nice": false, "zero": false}}}},
        {"mark": {"type": "text", "text": "114.50", "align": "left", "baseline": "middle", "fontSize": 5.5, "color": "#22ab94"},
         "encoding": {"x": {"datum": 44.15, "axis": null, "scale": {"domain": [-1.033, 86.75], "nice": false, "zero": false}}, "y": {"datum": 67.9, "axis": null, "scale": {"domain": [-34.29, 73.65], "nice": false, "zero": false}}}},
        {"mark": {"type": "text", "text": "C", "align": "left", "baseline": "middle", "fontSize": 5.5, "color": "#131722"},
         "encoding": {"x": {"datum": 47.5, "axis": null, "scale": {"domain": [-1.033, 86.75], "nice": false, "zero": false}}, "y": {"datum": 67.9, "axis": null, "scale": {"domain": [-34.29, 73.65], "nice": false, "zero": false}}}},
        {"mark": {"type": "text", "text": "120.73", "align": "left", "baseline": "middle", "fontSize": 5.5, "color": "#22ab94"},
         "encoding": {"x": {"datum": 48.1, "axis": null, "scale": {"domain": [-1.033, 86.75], "nice": false, "zero": false}}, "y": {"datum": 67.9, "axis": null, "scale": {"domain": [-34.29, 73.65], "nice": false, "zero": false}}}},
        {"mark": {"type": "text", "text": "+5.97 (+5.20%)", "align": "left", "baseline": "middle", "fontSize": 5.5, "color": "#22ab94"},
         "encoding": {"x": {"datum": 51.6, "axis": null, "scale": {"domain": [-1.033, 86.75], "nice": false, "zero": false}}, "y": {"datum": 67.9, "axis": null, "scale": {"domain": [-34.29, 73.65], "nice": false, "zero": false}}}},
        {"mark": {"type": "text", "text": "BITSTAMP", "align": "right", "baseline": "middle", "fontSize": 4.6, "color": "#131722"},
         "encoding": {"x": {"datum": 3.08, "axis": null, "scale": {"domain": [-1.033, 86.75], "nice": false, "zero": false}}, "y": {"datum": 65.4, "axis": null, "scale": {"domain": [-34.29, 73.65], "nice": false, "zero": false}}}},
        {"mark": {"type": "text", "text": "10.71%", "align": "left", "baseline": "middle", "fontSize": 4.6, "color": "#e0409a"},
         "encoding": {"x": {"datum": 3.44, "axis": null, "scale": {"domain": [-1.033, 86.75], "nice": false, "zero": false}}, "y": {"datum": 65.4, "axis": null, "scale": {"domain": [-34.29, 73.65], "nice": false, "zero": false}}}},
        {"mark": {"type": "text", "text": "2.13%", "align": "left", "baseline": "middle", "fontSize": 4.8, "color": "#b84cf2"},
         "encoding": {"x": {"datum": -0.17, "axis": null, "scale": {"domain": [-1.033, 86.75], "nice": false, "zero": false}}, "y": {"datum": 63.2, "axis": null, "scale": {"domain": [-34.29, 73.65], "nice": false, "zero": false}}}}
      ]
    }
  ]
}
